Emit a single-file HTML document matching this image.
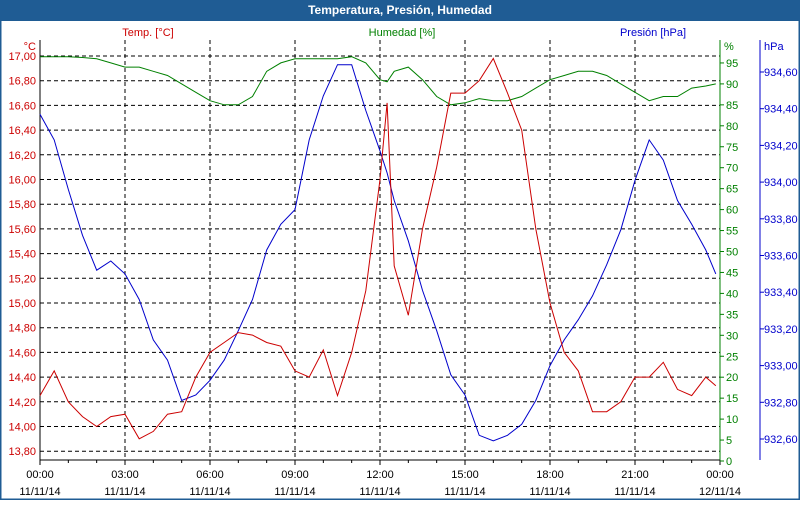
<!DOCTYPE html>
<html><head><meta charset="utf-8"><style>
body{margin:0;background:#fff;font-family:"Liberation Sans",sans-serif}
svg text{font-family:"Liberation Sans",sans-serif;font-size:11px}
</style></head><body>
<svg id="c" width="800" height="500">
<rect x="0" y="0" width="800" height="500" fill="#fff" stroke="#1f5c94" stroke-width="3"/>
<rect x="0" y="0" width="800" height="21" fill="#1f5c94"/>
<text x="400" y="14" text-anchor="middle" fill="#fff" font-weight="bold" style="font-size:12px">Temperatura, Presión, Humedad</text>
<text x="148" y="36" text-anchor="middle" fill="#cc0000">Temp. [°C]</text>
<text x="402" y="36" text-anchor="middle" fill="#008000">Humedad [%]</text>
<text x="653" y="36" text-anchor="middle" fill="#0000cc">Presión [hPa]</text>
<text x="36" y="50" text-anchor="end" fill="#cc0000">°C</text>
<text x="724" y="50" fill="#008000">%</text>
<text x="764" y="50" fill="#0000cc">hPa</text>
<g id="grid"></g><g id="axes"></g><g id="series"></g>
</svg>
<script>
const hours=[0,0.5,1,1.5,2,2.5,3,3.5,4,4.5,5,5.5,6,6.5,7,7.5,8,8.5,9,9.5,10,10.5,11,11.5,12,12.25,12.5,13,13.5,14,14.5,15,15.5,16,16.5,17,17.5,18,18.5,19,19.5,20,20.5,21,21.5,22,22.5,23,23.5,23.85];
const temp=[14.25,14.45,14.2,14.08,14.0,14.08,14.1,13.9,13.96,14.1,14.12,14.4,14.6,14.68,14.76,14.74,14.68,14.65,14.45,14.4,14.62,14.25,14.6,15.1,16.0,16.62,15.3,14.9,15.6,16.1,16.7,16.7,16.8,16.98,16.7,16.4,15.6,15.0,14.6,14.45,14.12,14.12,14.2,14.4,14.4,14.52,14.3,14.25,14.4,14.33];
const hum=[96.5,96.5,96.5,96.3,96,95,94,94,93,92,90,88,86,85,85,87,93,95,96,96,96,96,96.5,95,91,90.5,93,94,91,87,85,85.5,86.5,86,86,87,89,91,92,93,93,92,90,88,86,87,87,89,89.5,90];
const pres=[934.37,934.23,933.96,933.71,933.52,933.57,933.5,933.36,933.14,933.03,932.81,932.84,932.92,933.03,933.19,933.36,933.63,933.77,933.85,934.23,934.47,934.64,934.64,934.39,934.17,934.05,933.9,933.68,933.41,933.19,932.95,932.84,932.62,932.59,932.62,932.68,932.81,933.0,933.14,933.25,933.38,933.55,933.74,934.01,934.23,934.12,933.9,933.77,933.63,933.5];
const tempTicks=[17.0,16.8,16.6,16.4,16.2,16.0,15.8,15.6,15.4,15.2,15.0,14.8,14.6,14.4,14.2,14.0,13.8];
const humTicks=[95,90,85,80,75,70,65,60,55,50,45,40,35,30,25,20,15,10,5,0];
const presTicks=[934.6,934.4,934.2,934.0,933.8,933.6,933.4,933.2,933.0,932.8,932.6];
const xTicks=[0,3,6,9,12,15,18,21,24];
const xLabels=["00:00","03:00","06:00","09:00","12:00","15:00","18:00","21:00","00:00"];
const dLabels=["11/11/14","11/11/14","11/11/14","11/11/14","11/11/14","11/11/14","11/11/14","11/11/14","12/11/14"];
const X=h=>40+h*680/24;
const YT=v=>56+(17-v)/0.2*24.7;
const YH=v=>461-v*4.19;
const YP=v=>72+(934.6-v)/0.2*36.7;
const NS="http://www.w3.org/2000/svg";
function mk(tag,attrs,parent,txt){const e=document.createElementNS(NS,tag);for(const k in attrs)e.setAttribute(k,attrs[k]);if(txt!==undefined)e.textContent=txt;document.getElementById(parent).appendChild(e);return e;}
const fmt=v=>v.toFixed(2).replace('.',',');
tempTicks.forEach(v=>{const y=YT(v);
 let l=mk('line',{x1:40,x2:720,y1:y,y2:y,stroke:'#000','stroke-dasharray':'4,3'},'grid');
 
 
 let t=mk('text',{x:36,y:y+4,'text-anchor':'end',fill:'#cc0000'},'axes',fmt(v));
 
 });
xTicks.forEach((h,i)=>{const x=X(h);
 if(i>0&&i<8){let l=mk('line',{x1:x,x2:x,y1:40,y2:460,stroke:'#000','stroke-dasharray':'4,3'},'grid');
 
 }
 let t=mk('text',{x:x,y:478,'text-anchor':'middle',fill:'#000'},'axes',xLabels[i]);
 
 
 let d=mk('text',{x:x,y:495,'text-anchor':'middle',fill:'#000'},'axes',dLabels[i]);
 
 });
for(let h=0;h<=24;h++){let l=mk('line',{x1:X(h),x2:X(h),y1:460,y2:h%3?463:465,stroke:'#000'},'axes');
 
 }
humTicks.forEach(v=>{const y=YH(v);
 let l=mk('line',{x1:720,x2:724,y1:y,y2:y,stroke:'#008000'},'axes');
 
 
 let t=mk('text',{x:726,y:y+4,fill:'#008000'},'axes',String(v));
 
 });
presTicks.forEach(v=>{const y=YP(v);
 let l=mk('line',{x1:760,x2:764,y1:y,y2:y,stroke:'#0000cc'},'axes');
 
 
 let t=mk('text',{x:764,y:y+4,fill:'#0000cc'},'axes',fmt(v));
 
 });
let ax=[['left-axis',40,40,40,460,'#000'],['bottom-axis',40,720,460,460,'#000'],['humidity-axis',720,720,40,460,'#008000'],['pressure-axis',760,760,40,460,'#0000cc']];
ax.forEach(a=>{let l=mk('line',{x1:a[1],x2:a[2],y1:a[3],y2:a[4],stroke:a[5]},'axes');
 
 });
function line(vals,f,color,name){const d=vals.map((v,i)=>(i?'L':'M')+X(hours[i]).toFixed(1)+','+f(v).toFixed(1)).join('');
 let p=mk('path',{d:d,fill:'none',stroke:color,'stroke-width':1},'series');
 
 }
line(hum,YH,'#008000','humidity-line');
line(pres,YP,'#0000cc','pressure-line');
line(temp,YT,'#cc0000','temperature-line');
</script>
</body></html>
